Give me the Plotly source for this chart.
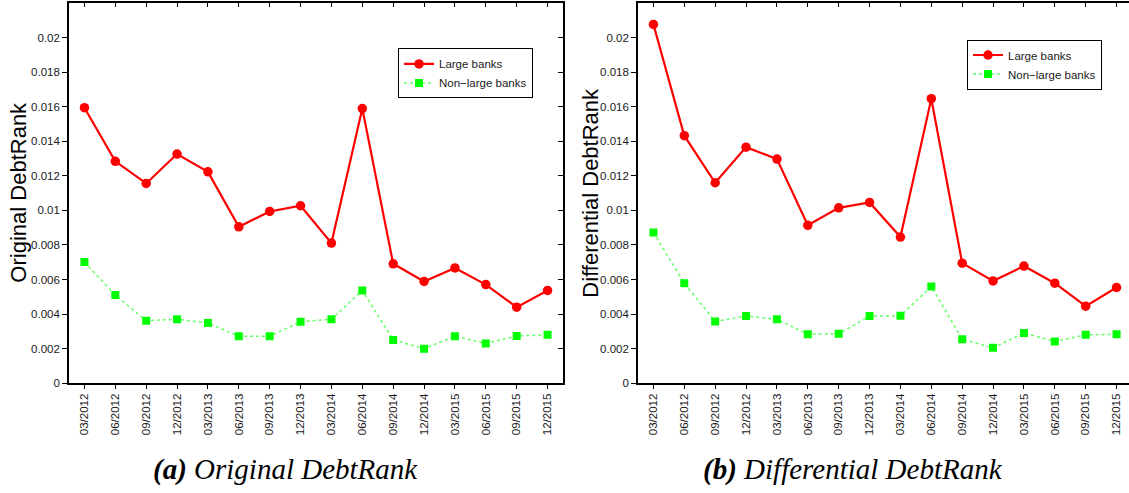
import plotly.graph_objects as go

dates = ["03/2012", "06/2012", "09/2012", "12/2012", "03/2013", "06/2013",
         "09/2013", "12/2013", "03/2014", "06/2014", "09/2014", "12/2014",
         "03/2015", "06/2015", "09/2015", "12/2015"]

large_a = [0.01594, 0.01284, 0.01156, 0.01326, 0.01223, 0.00905, 0.00994, 0.01027,
           0.00811, 0.01589, 0.00691, 0.00589, 0.00667, 0.00571, 0.00440, 0.00537]
nonlarge_a = [0.00701, 0.00510, 0.00362, 0.00370, 0.00349, 0.00272, 0.00272, 0.00356,
              0.00370, 0.00537, 0.00251, 0.00200, 0.00272, 0.00230, 0.00274, 0.00280]
large_b = [0.02076, 0.01432, 0.01160, 0.01366, 0.01297, 0.00914, 0.01015, 0.01046,
           0.00846, 0.01646, 0.00695, 0.00592, 0.00678, 0.00579, 0.00446, 0.00554]
nonlarge_b = [0.00872, 0.00579, 0.00358, 0.00389, 0.00370, 0.00284, 0.00286, 0.00389,
              0.00390, 0.00560, 0.00255, 0.00205, 0.00291, 0.00242, 0.00280, 0.00284]

y_tickvals = [0, 0.002, 0.004, 0.006, 0.008, 0.01, 0.012, 0.014, 0.016, 0.018, 0.02]
y_ticktext = ["0", "0.002", "0.004", "0.006", "0.008", "0.01", "0.012", "0.014",
              "0.016", "0.018", "0.02"]

series_names = ["Large banks", "Non\u2212large banks"]
ylabels = ["Original DebtRank", "Differential DebtRank"]
captions = ["<b>(a)</b> Original DebtRank", "<b>(b)</b> Differential DebtRank"]

xpos = list(range(1, len(dates) + 1))

W, H = 1129, 493
SANS = "Liberation Sans"
SERIF = "Liberation Serif"
TXT = "#1a1a1a"

fig = go.Figure()

panels = [
    dict(large=large_a, non=nonlarge_a, x="x", y="y", legend="legend"),
    dict(large=large_b, non=nonlarge_b, x="x2", y="y2", legend="legend2"),
]
for p in panels:
    fig.add_trace(go.Scatter(
        x=xpos, y=p["large"], name=series_names[0], mode="lines+markers",
        line=dict(color="#ff0000", width=2.2),
        marker=dict(symbol="circle", size=9.5, color="#ff0000"),
        xaxis=p["x"], yaxis=p["y"], legend=p["legend"]))
    fig.add_trace(go.Scatter(
        x=xpos, y=p["non"], name=series_names[1], mode="lines+markers",
        line=dict(color="#66ff66", width=1.5, dash="dot"),
        marker=dict(symbol="square", size=8, color="#00ff00"),
        xaxis=p["x"], yaxis=p["y"], legend=p["legend"]))

# empty helper traces so that the mirrored tick axes are drawn
fig.add_trace(go.Scatter(x=[], y=[], xaxis="x3", yaxis="y", showlegend=False))
fig.add_trace(go.Scatter(x=[], y=[], xaxis="x", yaxis="y3", showlegend=False))
fig.add_trace(go.Scatter(x=[], y=[], xaxis="x4", yaxis="y2", showlegend=False))

y_top_px = 3
y_bot_px = 388
ydom = [(H - y_bot_px) / H, (H - y_top_px) / H]
xa_dom = [69 / W, 563 / W]
xb_dom = [638 / W, 1.0]
xa_range = [0.5, 16.5]
px_per_unit = (563 - 69) / 16.0
xb_range = [0.5, 0.5 + (W - 638) / px_per_unit]
y_range = [0, 0.022]

def xaxis_main(dom, rng, anchor):
    return dict(domain=dom, range=rng, anchor=anchor, tickmode="array",
                tickvals=xpos, ticktext=dates, tickangle=-90,
                ticks="outside", ticklen=4, tickwidth=1, tickcolor="black",
                showline=True, linecolor="black", linewidth=1.6, mirror=True,
                showgrid=False, zeroline=False,
                tickfont=dict(family=SANS, size=11.5, color=TXT))

def yaxis_main(rng, anchor):
    return dict(domain=ydom, range=rng, anchor=anchor, tickmode="array",
                tickvals=y_tickvals, ticktext=y_ticktext,
                ticks="outside", ticklen=5, tickwidth=1, tickcolor="black",
                showline=True, linecolor="black", linewidth=1.6,
                showgrid=False, zeroline=False,
                tickfont=dict(family=SANS, size=11.5, color=TXT))

def mirror_x(dom, rng, overlay, anchor):
    return dict(domain=dom, range=rng, overlaying=overlay, anchor=anchor, side="top",
                tickmode="array", tickvals=xpos, showticklabels=False,
                ticks="inside", ticklen=4, tickwidth=1, tickcolor="black",
                showline=False, showgrid=False, zeroline=False)

fig.update_layout(
    width=W, height=H,
    margin=dict(l=0, r=0, t=0, b=0),
    paper_bgcolor="white", plot_bgcolor="white",
    xaxis=xaxis_main(xa_dom, xa_range, "y"),
    yaxis={**yaxis_main(y_range, "x"), "mirror": True},
    xaxis2=xaxis_main(xb_dom, xb_range, "y2"),
    yaxis2=yaxis_main(y_range, "x2"),
    xaxis3=mirror_x(xa_dom, xa_range, "x", "y"),
    xaxis4=mirror_x(xb_dom, xb_range, "x2", "y2"),
    yaxis3=dict(domain=ydom, range=y_range, overlaying="y", anchor="x", side="right",
                tickmode="array", tickvals=y_tickvals, showticklabels=False,
                ticks="inside", ticklen=5, tickwidth=1, tickcolor="black",
                showline=False, showgrid=False, zeroline=False),
    legend=dict(x=398 / W, y=(H - 49) / H, xanchor="left", yanchor="top",
                bgcolor="white", bordercolor="black", borderwidth=1,
                font=dict(family=SANS, size=11.5, color=TXT),
                itemwidth=30, tracegroupgap=0),
    legend2=dict(x=967 / W, y=(H - 40) / H, xanchor="left", yanchor="top",
                 bgcolor="white", bordercolor="black", borderwidth=1,
                 font=dict(family=SANS, size=11.5, color=TXT),
                 itemwidth=30, tracegroupgap=0),
    showlegend=True,
)

# y-axis titles
for xc, label in zip([19, 591], ylabels):
    fig.add_annotation(x=xc / W, y=(H - 195) / H, xref="paper", yref="paper",
                       text=label, textangle=-90, showarrow=False,
                       xanchor="center", yanchor="middle",
                       font=dict(family=SANS, size=22, color="black"))

# captions
for xc, cap in zip([285, 853], captions):
    fig.add_annotation(x=xc / W, y=(H - 475) / H, xref="paper", yref="paper",
                       text=cap, showarrow=False, xanchor="center", yanchor="middle",
                       font=dict(family=SERIF, size=29, color="black", style="italic"))

fig.write_html("out.html")
